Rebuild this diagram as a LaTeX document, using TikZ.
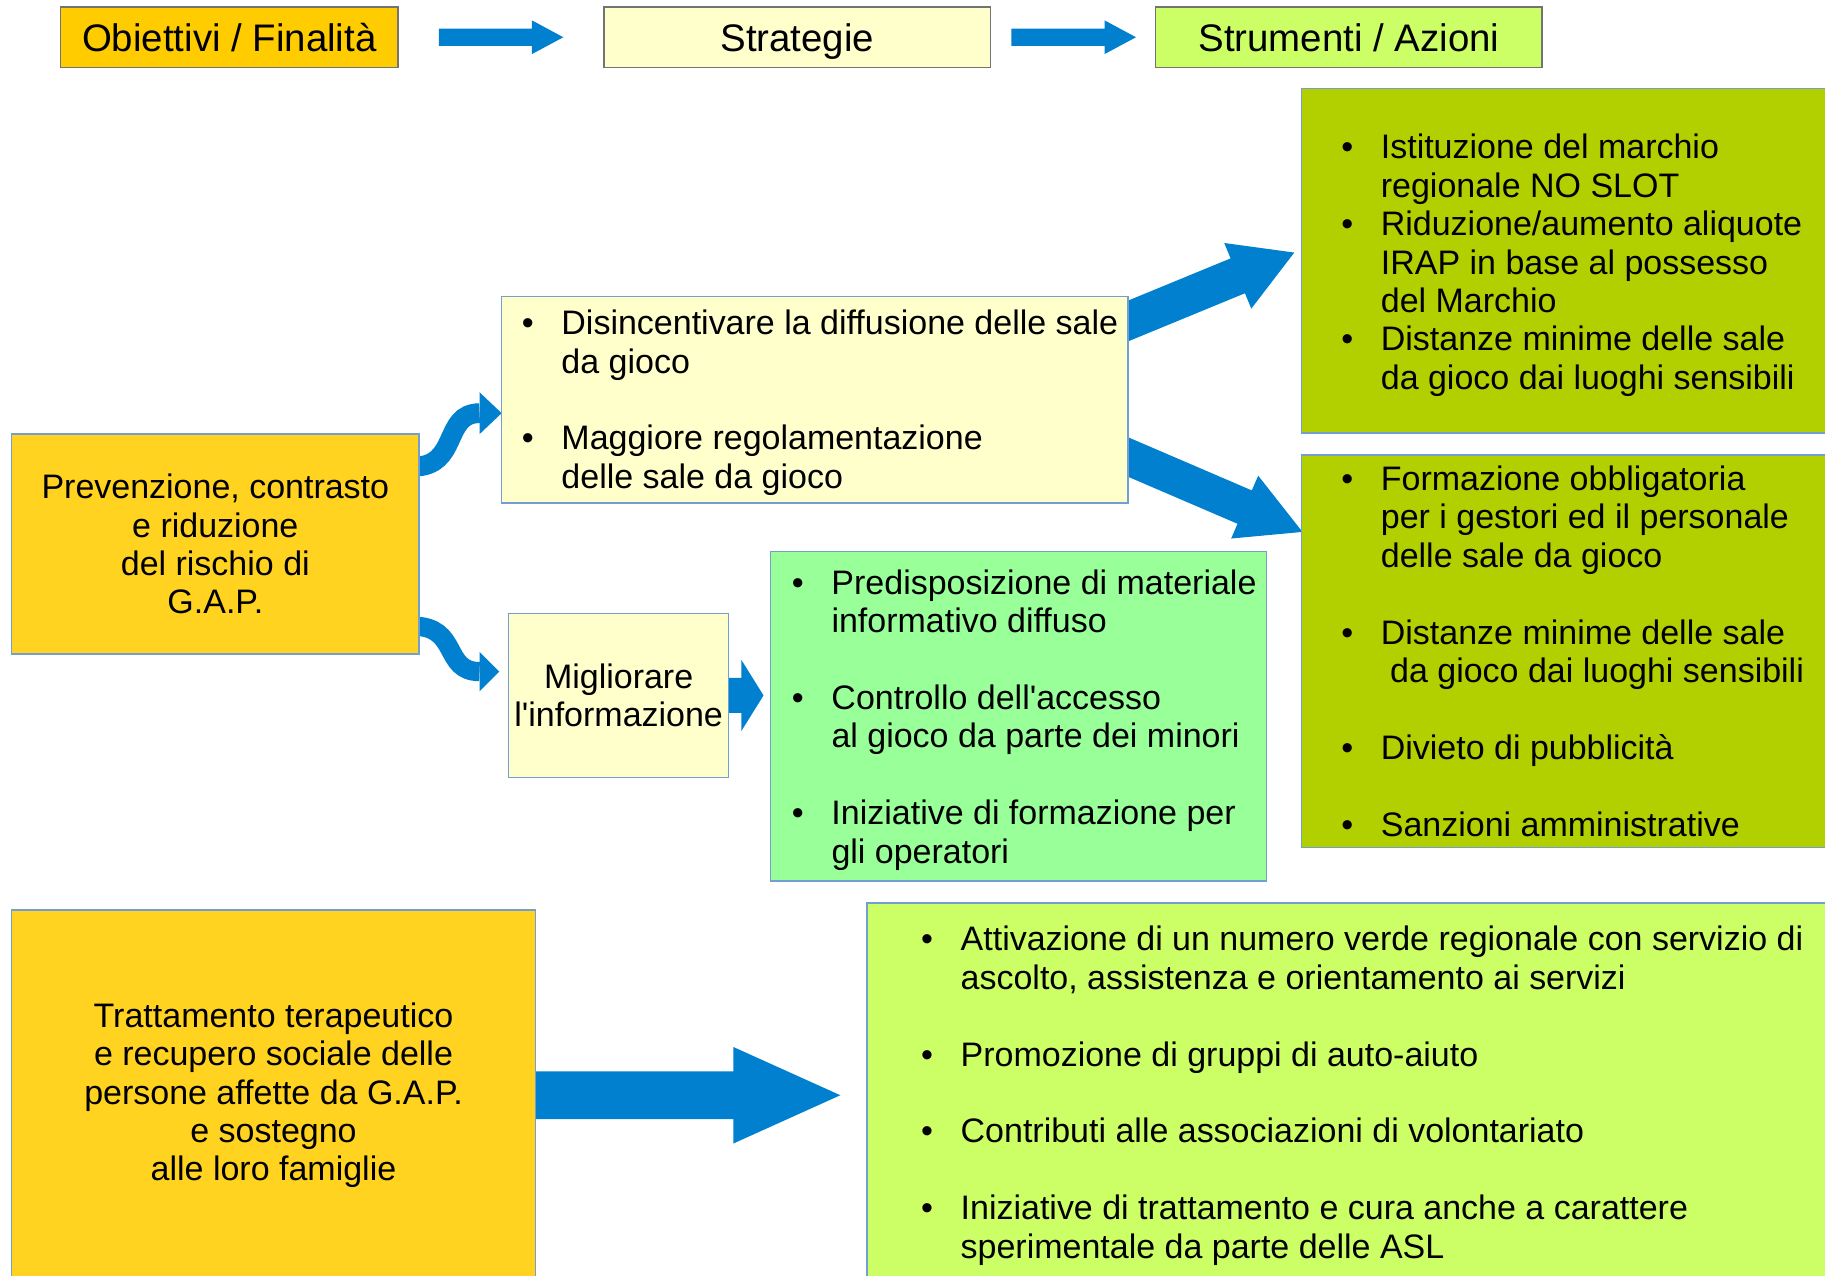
\documentclass[tikz,border=0pt]{standalone}
\usepackage{fontspec}
\setmainfont{Liberation Sans}
\usetikzlibrary{calc}
\pgfdeclarelayer{sfondo}
\pgfsetlayers{sfondo,main}
\newcommand{\corpo}{\fontsize{14.6pt}{16.5pt}\selectfont}
\newcommand{\titolo}{\fontsize{16.5pt}{19pt}\selectfont}
% freccia piena: da, a, mezza asta, mezza punta, lunghezza punta
\newcommand{\freccia}[5]{%
  \coordinate (collo) at ($(#2)!#5!(#1)$);
  \fill[blu] ($(#1)!#3!90:(#2)$) -- ($(collo)!#3!90:(#2)$) -- ($(collo)!#4!90:(#2)$)
    -- (#2) -- ($(collo)!#4!-90:(#2)$) -- ($(collo)!#3!-90:(#2)$) -- ($(#1)!#3!-90:(#2)$) -- cycle;}
\begin{document}
\begin{tikzpicture}[x=0.5pt,y=-0.5pt,
    riquadro/.style={draw=bordo,line width=0.6pt,anchor=north west,inner sep=0pt,outer sep=0pt,align=center,font=\corpo},
    testata/.style={draw=black!55,line width=0.6pt,anchor=north west,inner sep=0pt,outer sep=0pt,
      minimum width=166pt,minimum height=26pt,text height=12.2pt,text depth=0pt,font=\titolo},
    elenco/.style={anchor=base west,inner sep=0pt,font=\corpo}]
    %colori
    \definecolor{arancio}{HTML}{FFCC00}
    \definecolor{giallo}{HTML}{FFD320}
    \definecolor{crema}{HTML}{FFFFCC}
    \definecolor{lime}{HTML}{CCFF66}
    \definecolor{oliva}{HTML}{B2D000}
    \definecolor{verde}{HTML}{99FF99}
    \definecolor{blu}{HTML}{0080CF}
    \definecolor{bordo}{HTML}{729FCF}
    \path[use as bounding box] (0,0) rectangle (1568,1096);
    \clip (0,0) rectangle (1568,1096);

    % Intestazione
    \node[testata,fill=arancio,minimum width=145pt] (obi) at (52,6) {Obiettivi / Finalità};
    \node[testata,fill=crema] (strg) at (519,6) {Strategie};
    \node[testata,fill=lime] (strm) at (993,6) {Strumenti / Azioni};

    % Obiettivi
    \node[riquadro,fill=giallo,minimum width=175pt,minimum height=94.5pt] (prev) at (10,373)
      {Prevenzione, contrasto\\e riduzione\\del rischio di\\G.A.P.};
    \node[riquadro,fill=giallo,minimum width=225pt,minimum height=159pt] (trat) at (10,782)
      {Trattamento terapeutico\\e recupero sociale delle\\persone affette da G.A.P.\\e sostegno\\alle loro famiglie};

    % Strategie
    \node[riquadro,fill=crema,minimum width=269pt,minimum height=88.5pt] (s1) at (431,255) {};
    \node[riquadro,fill=crema,minimum width=94.5pt,minimum height=70.5pt] (s2) at (437,527)
      {Migliorare\\l\textquotesingle informazione};
    \node[elenco] (s1t) at (448,287.5) {\begin{tabular}[t]{@{}p{17pt}@{}l@{}}
      \textbullet & Disincentivare la diffusione delle sale\\
                  & da gioco\\
                  & \\
      \textbullet & Maggiore regolamentazione\\
                  & delle sale da gioco
    \end{tabular}};

    % Strumenti
    \node[riquadro,fill=verde,minimum width=213pt,minimum height=141.5pt] (verde) at (662,474) {};
    \node[elenco] (verdet) at (680,510.5) {\begin{tabular}[t]{@{}p{17pt}@{}l@{}}
      \textbullet & Predisposizione di materiale\\
                  & informativo diffuso\\
                  & \\
      \textbullet & Controllo dell\textquotesingle accesso\\
                  & al gioco da parte dei minori\\
                  & \\
      \textbullet & Iniziative di formazione per\\
                  & gli operatori
    \end{tabular}};
    \node[riquadro,fill=oliva,minimum width=240pt,minimum height=148pt] (oliva1) at (1118,76) {};
    \node[elenco] (oliva1t) at (1152,136.5) {\begin{tabular}[t]{@{}p{17pt}@{}l@{}}
      \textbullet & Istituzione del marchio\\
                  & regionale NO SLOT\\
      \textbullet & Riduzione/aumento aliquote\\
                  & IRAP in base al possesso\\
                  & del Marchio\\
      \textbullet & Distanze minime delle sale\\
                  & da gioco dai luoghi sensibili
    \end{tabular}};
    \node[riquadro,fill=oliva,minimum width=240pt,minimum height=168.5pt] (oliva2) at (1118,391) {};
    \node[elenco] (oliva2t) at (1152,421.5) {\begin{tabular}[t]{@{}p{17pt}@{}l@{}}
      \textbullet & Formazione obbligatoria\\
                  & per i gestori ed il personale\\
                  & delle sale da gioco\\
                  & \\
      \textbullet & Distanze minime delle sale\\
                  & \hspace{4pt}da gioco dai luoghi sensibili\\
                  & \\
      \textbullet & Divieto di pubblicità\\
                  & \\
      \textbullet & Sanzioni amministrative
    \end{tabular}};
    \node[riquadro,fill=lime,minimum width=425pt,minimum height=165pt] (fondo) at (745,776) {};
    \node[elenco] (fondot) at (791,817) {\begin{tabular}[t]{@{}p{17pt}@{}l@{}}
      \textbullet & Attivazione di un numero verde regionale con servizio di\\
                  & ascolto, assistenza e orientamento ai servizi\\
                  & \\
      \textbullet & Promozione di gruppi di auto-aiuto\\
                  & \\
      \textbullet & Contributi alle associazioni di volontariato\\
                  & \\
      \textbullet & Iniziative di trattamento e cura anche a carattere\\
                  & sperimentale da parte delle ASL
    \end{tabular}};

    % Frecce
    \coordinate (f1a) at ($(obi.east)+(35,0)$);
    \coordinate (f1b) at ($(strg.west)+(-35,0)$);
    \coordinate (f2a) at ($(strg.east)+(18,0)$);
    \coordinate (f2b) at ($(strm.west)+(-17,0)$);
    \coordinate (f3a) at ($(s1.north east)+(-19,28.7)$);
    \coordinate (f3b) at ($(oliva1.west)+(-6,-7)$);
    \coordinate (f4a) at ($(s1.south east)+(-19,-47.6)$);
    \coordinate (f4b) at ($(oliva2.north west)+(1,66)$);
    \coordinate (f5a) at ($(s2.east)+(-5,0)$);
    \coordinate (f5b) at ($(s2.east)+(30,0)$);
    \coordinate (f6a) at ($(trat.east)+(-5,0)$);
    \coordinate (f6b) at ($(trat.east)+(262,0)$);
    \coordinate (c1a) at ($(prev.east)+(-5,-66.5)$);
    \coordinate (c1b) at ($(s1.west)+(-19,11.5)$);
    \coordinate (c2a) at ($(prev.east)+(-5,70.5)$);
    \coordinate (c2b) at ($(s2.west)+(-25,-20.5)$);
    \begin{pgfonlayer}{sfondo}
        \freccia{f1a}{f1b}{3.75pt}{7.25pt}{13.5pt}
        \freccia{f2a}{f2b}{3.75pt}{7.25pt}{13.5pt}
        \freccia{f3a}{f3b}{8.1pt}{15.25pt}{26.25pt}
        \freccia{f4a}{f4b}{7.8pt}{14.7pt}{27pt}
        \freccia{f5a}{f5b}{7.5pt}{15.25pt}{9.5pt}
        \freccia{f6a}{f6b}{10.25pt}{20.75pt}{46pt}
        % frecce curve
        \draw[blu,line width=8.5pt] (c1a) .. controls +(40,0) and +(-32,0) .. (c1b);
        \fill[blu] ($(c1b)+(0,-18)$) -- ($(c1b)+(19,0)$) -- ($(c1b)+(0,18)$) -- cycle;
        \draw[blu,line width=8.25pt] (c2a) .. controls +(40,0) and +(-32,0) .. (c2b);
        \fill[blu] ($(c2b)+(0,-17)$) -- ($(c2b)+(17,0)$) -- ($(c2b)+(0,17)$) -- cycle;
    \end{pgfonlayer}
\end{tikzpicture}
\end{document}
